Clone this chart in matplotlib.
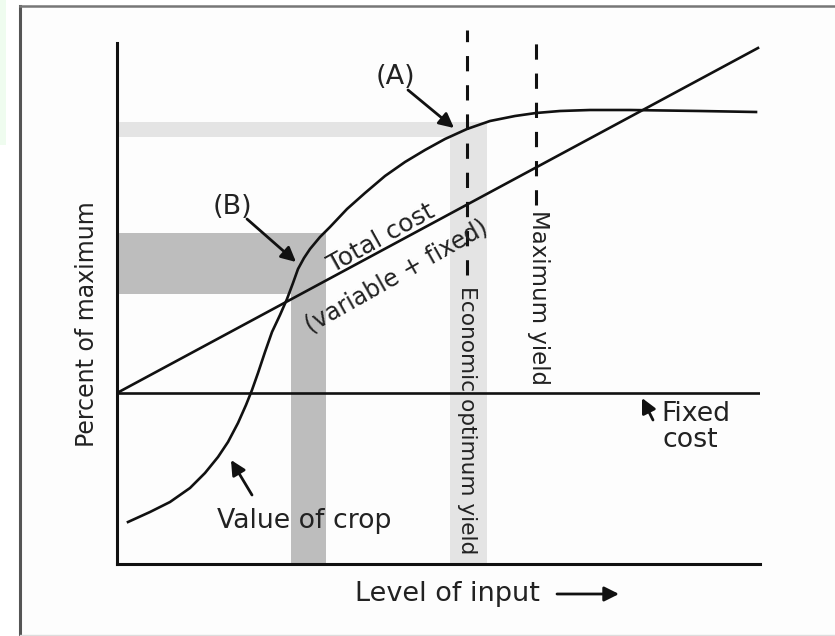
import matplotlib
matplotlib.use("Agg")
import matplotlib.pyplot as plt
from matplotlib.lines import Line2D
from matplotlib.patches import Rectangle

plt.rcParams['font.family'] = ['DejaVu Sans']
plt.rcParams['lines.scale_dashes'] = False

W, H = 835, 636
# axes origin (pixels) and size
X0, Y0, AW, AH = 117, 564, 643, 521

# ---- data (level of input, percent-of-maximum units) ----
crop_x = [11, 33, 53, 73, 88, 101, 111, 121, 129, 135, 141, 148, 155, 163,
          170, 176, 181, 187, 193, 203, 213, 230, 248, 268, 288, 308, 328,
          350, 373, 398, 419, 443, 473, 513, 583, 639]
crop_y = [42, 52, 62, 76, 91, 107, 122, 141, 159, 174, 191, 212, 232, 249,
          265, 281, 295, 306, 315, 327, 337, 355, 371, 388, 402, 414, 425,
          435, 443, 448, 451, 453, 454, 454, 453, 452]
cost_x = [0, 641]
cost_y = [171, 516]
fixed_x = [0, 643]
fixed_y = [171, 171]

econ_x = 350          # economic optimum input level
maxy_x = 419          # maximum-yield input level
econ_line = [289, 534]
maxy_line = [359, 521]

# shaded bands: (x0, x1) and (y0, y1)
light_band_x = [333, 370]
light_band_y = [427, 442]
dark_band_x = [174, 209]
dark_band_y = [270, 331]

fig = plt.figure(figsize=(W / 100, H / 100), dpi=100)
fig.patch.set_facecolor('white')

def fx(px):
    return px / W

def fy(py):
    return 1 - py / H

# outer frame
fig.add_artist(Rectangle((fx(20), 0), 1 - fx(20), fy(6), transform=fig.transFigure,
                         facecolor='#fdfdfd', edgecolor='none', zorder=0))
fig.add_artist(Rectangle((0, fy(145)), fx(6), 1 - fy(145), transform=fig.transFigure,
                         facecolor='#effcef', edgecolor='none', zorder=0))
fig.add_artist(Line2D([fx(20), fx(20)], [0, fy(6)], transform=fig.transFigure,
                      color='#555555', lw=2.2))
fig.add_artist(Line2D([fx(20), 1], [fy(6), fy(6)], transform=fig.transFigure,
                      color='#777777', lw=1.8))
fig.add_artist(Line2D([fx(20), 1], [fy(635), fy(635)], transform=fig.transFigure,
                      color='#dddddd', lw=1.0))

ax = fig.add_axes([X0 / W, 1 - Y0 / H, AW / W, AH / H])
ax.set_xlim(0, AW)
ax.set_ylim(0, AH)
ax.patch.set_alpha(0)
for s in ['top', 'right']:
    ax.spines[s].set_visible(False)
for s in ['left', 'bottom']:
    ax.spines[s].set_linewidth(2.2)
    ax.spines[s].set_color('#111111')
ax.set_xticks([])
ax.set_yticks([])

light = '#e4e4e4'
dark = '#bdbdbd'
# light bands
ax.add_patch(Rectangle((0, light_band_y[0]), light_band_x[0], light_band_y[1] - light_band_y[0],
                       facecolor=light, edgecolor='none', zorder=1))
ax.add_patch(Rectangle((light_band_x[0], 0), light_band_x[1] - light_band_x[0], light_band_y[1],
                       facecolor=light, edgecolor='none', zorder=1))
# dark bands
ax.add_patch(Rectangle((0, dark_band_y[0]), dark_band_x[1], dark_band_y[1] - dark_band_y[0],
                       facecolor=dark, edgecolor='none', zorder=1))
ax.add_patch(Rectangle((dark_band_x[0], 0), dark_band_x[1] - dark_band_x[0], dark_band_y[1],
                       facecolor=dark, edgecolor='none', zorder=1))

lw = 1.9
ax.plot(fixed_x, fixed_y, color='#111111', lw=lw, zorder=3, solid_capstyle='butt')
ax.plot(cost_x, cost_y, color='#111111', lw=lw, zorder=3)
ax.plot(crop_x, crop_y, color='#111111', lw=lw, zorder=3, solid_joinstyle='round')

ax.plot([econ_x, econ_x], econ_line, color='#111111', lw=2.2, dashes=(11, 10),
        zorder=3, clip_on=False)
ax.plot([maxy_x, maxy_x], maxy_line, color='#111111', lw=2.2, dashes=(11, 10),
        zorder=3, clip_on=False)

tc = '#222222'

def P(px, py):
    return (px - X0, Y0 - py)

def txt(px, py, s, fs, **kw):
    ax.text(*P(px, py), s, color=tc, fontsize=fs, ha=kw.pop('ha', 'center'),
            va=kw.pop('va', 'center'), clip_on=False, zorder=5,
            rotation_mode='anchor', **kw)

txt(395, 77, '(A)', 19.5)
txt(232, 207, '(B)', 19.5)
txt(381, 238, 'Total cost', 18, rotation=29)
txt(396, 276, '(variable + fixed)', 17, rotation=29.5)
txt(467, 420, 'Economic optimum yield', 15.6, rotation=-90)
txt(538, 297, 'Maximum yield', 16.5, rotation=-90)
txt(304, 521, 'Value of crop', 19.3)
txt(661, 414, 'Fixed', 19.3, ha='left')
txt(662, 440, 'cost', 19.3, ha='left')
txt(447, 594, 'Level of input', 19.5)
txt(87, 324, 'Percent of maximum', 17, rotation=90)

aprops = dict(arrowstyle='-|>', color='#111111', lw=2.0, mutation_scale=22,
              shrinkA=0, shrinkB=0)

def arrow(p_from, p_to):
    ax.annotate('', xy=P(*p_to), xytext=P(*p_from), arrowprops=aprops,
                annotation_clip=False, zorder=5)

arrow((408, 90), (454, 128))
arrow((247, 219), (296, 262))
arrow((252, 495), (231, 460))
arrow((653, 420), (642, 398))
arrow((557, 594), (619, 594))

fig.savefig('out.png', dpi=100, facecolor=fig.get_facecolor())
